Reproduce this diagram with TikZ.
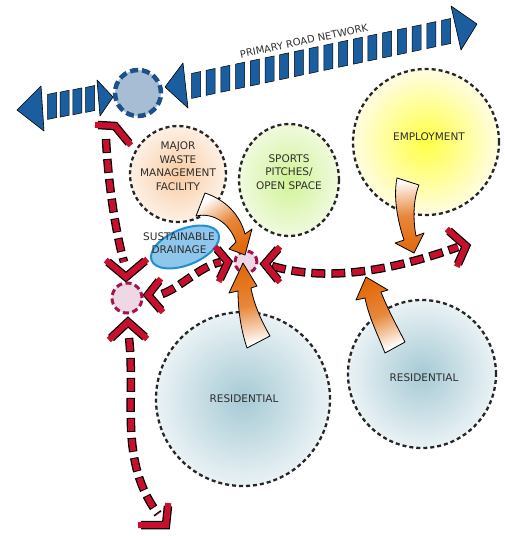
\documentclass[tikz,border=0pt]{standalone}
\usepackage{fontspec}
\setmainfont{DejaVu Sans}
\usetikzlibrary{calc,shapes.geometric}
\definecolor{roadblue}{HTML}{1B5E9F}
\definecolor{roadedge}{HTML}{1D4F8A}
\definecolor{roadfill}{HTML}{A7BDD3}
\definecolor{routered}{HTML}{C8102E}
\definecolor{juncedge}{HTML}{A3124F}
\definecolor{juncfill}{HTML}{EFD8E5}
\definecolor{arrowor}{HTML}{E2690A}
\definecolor{textgrey}{HTML}{2E2E2E}
\definecolor{drainfill}{HTML}{8FC6EC}
\definecolor{drainedge}{HTML}{1E8FD5}
\definecolor{empin}{HTML}{FFFF45}
\definecolor{empout}{HTML}{FFFDE2}
\definecolor{wastein}{HTML}{F9CBA2}
\definecolor{wasteout}{HTML}{FDF1E6}
\definecolor{sportin}{HTML}{D0F396}
\definecolor{sportout}{HTML}{F0FADF}
\definecolor{resin}{HTML}{A6CAD5}
\definecolor{resout}{HTML}{EAF2F5}
\tikzset{
  zone/.style={circle, draw=black!85, line width=2.3pt, dash pattern=on 4pt off 3pt},
  lbl/.style={text=textgrey, align=center, font=\fontsize{10.5}{13.6}\selectfont},
  stripe/.style={rectangle, fill=roadblue, draw=black, line width=0.5pt,
    minimum width=9pt, minimum height=25pt, inner sep=0pt, yslant=0.21},
  roadtip/.style={fill=roadblue, draw=black, line width=0.6pt, line join=round},
  route/.style={draw=routered, line width=6pt, dash pattern=on 12pt off 8pt, dash phase=19pt,
    preaction={draw=black, line width=8.5pt, dash pattern=on 14pt off 6pt, dash phase=0pt}},
  chev/.style={draw=routered, line width=6pt, line cap=rect, line join=miter,
    preaction={draw=black, line width=8.5pt}},
  junc/.style={circle, fill=juncfill, draw=juncedge, line width=3pt,
    dash pattern=on 6pt off 3.5pt, inner sep=0pt},
  fatdown/.style={draw=black, line width=0.8pt, line join=round,
    top color=white, bottom color=arrowor, middle color=arrowor!80!white},
  fatup/.style={draw=black, line width=0.8pt, line join=round,
    top color=arrowor, bottom color=white, middle color=arrowor!80!white}
}
\begin{document}
\begin{tikzpicture}[x=1pt,y=-1pt]
\useasboundingbox (0,0) rectangle (504,536);
% land uses
\node [zone, minimum size=146pt, inner color=empin, outer color=empout] (employ) at (426,142) {};
\node [zone, minimum size=96pt, inner color=wastein, outer color=wasteout] (waste) at (178,174) {};
\node [zone, ellipse, minimum width=100pt, minimum height=112pt,
  inner color=sportin, outer color=sportout] (sports) at (289,180) {};
\node [zone, minimum size=174pt, inner color=resin, outer color=resout] (resw) at (243,399) {};
\node [zone, minimum size=148pt, inner color=resin, outer color=resout] (rese) at (422,374) {};
\node [lbl] (employtxt) at (429,137) {EMPLOYMENT};
\node [lbl] (wastetxt) at (178,166) {MAJOR\\WASTE\\MANAGEMENT\\FACILITY};
\node [lbl] (sportstxt) at (289,172) {SPORTS\\PITCHES/\\OPEN SPACE};
\node [lbl] (reswtxt) at (244,399) {RESIDENTIAL};
\node [lbl] (resetxt) at (424,378) {RESIDENTIAL};
\node [ellipse, rotate=22, minimum width=72pt, minimum height=36pt,
  fill=drainfill, draw=drainedge, line width=2pt] (drain) at (185,247) {};
\node [lbl, font=\fontsize{10.5}{12.5}\selectfont] (draintxt) at (179,243) {SUSTAINABLE\\DRAINAGE};
% local routes
\coordinate (rnw) at (115,126);
\coordinate (rsw) at (126,277);
\coordinate (rwn) at (128,322);
\coordinate (rss) at (166,525);
\coordinate (rbw) at (148,295);
\coordinate (rbe) at (228,262);
\coordinate (rcw) at (265,264);
\coordinate (rce) at (466,246);
\draw [route] (106,139) .. controls (108,180) and (115,230) .. (124,262);
\draw [chev] (rnw) ++(-17,-1) -- (rnw) -- ++(14,17);
\draw [chev] (rsw) ++(-18,-15) -- (rsw) -- ++(19,-16);
\draw [route] (129,338) .. controls (136,400) and (118,460) .. (158,514);
\draw [chev] (rwn) ++(-17,16) -- (rwn) -- ++(17,15);
\draw [chev] (rss) ++(-25,0) -- (rss) -- ++(2,-19);
\draw [route] (162,294) .. controls (180,288) and (200,266) .. (221,262);
\draw [chev] (rbw) ++(11,-14) -- (rbw) -- ++(13,15);
\draw [chev] (rbe) ++(-11,-13) -- (rbe) -- ++(-8,17);
\draw [route] (272,266) .. controls (320,280) and (380,275) .. (458,247);
\draw [chev] (rcw) ++(13,-15) -- (rcw) -- ++(13,16);
\draw [chev] (rce) ++(-17,-15) -- (rce) -- ++(-8,18);
\node [junc, minimum size=22pt] (jn) at (246,262) {};
\node [junc, minimum size=30pt] (jw) at (127,298) {};
% flows
\draw [fatdown, shading angle=35] (205,193) .. controls (226,200) and (240,215) .. (245,234)
  -- (252,229) -- (245,255) -- (229,249) -- (236,242) .. controls (230,224) and (214,212) .. (196,216) -- cycle;
\draw [fatup, shading angle=11] (247,348) .. controls (241,330) and (238,310) .. (238,291)
  -- (229,293) -- (243,263) -- (257,286) -- (251,288) .. controls (254,305) and (262,322) .. (270,336) -- cycle;
\draw [fatdown, shading angle=5] (397,178) .. controls (393,198) and (398,222) .. (404,240)
  -- (395,243) -- (414,253) -- (424,233) -- (416,236) .. controls (413,220) and (413,200) .. (419,185) -- cycle;
\draw [fatup, shading angle=22] (385,353) .. controls (378,335) and (369,318) .. (365,298)
  -- (356,300) -- (366,277) -- (388,290) -- (381,292) .. controls (388,310) and (398,328) .. (405,342) -- cycle;
% primary road
\draw [roadtip] (17,110) -- (41,86) -- (44,131) -- cycle;
\foreach \i in {0,...,3}
  \node [stripe] (sw\i) at ($(52,106)!\i/3!(90,99)$) {};
\draw [roadtip] (97,80) -- (113,97) -- (100,116) -- cycle;
\node [circle, fill=roadfill, draw=roadedge, line width=4.5pt, dash pattern=on 8pt off 4pt,
  minimum size=46pt] (rj) at (138,93) {};
\draw [roadtip] (165,87) -- (183,63) -- (188,108) -- cycle;
\foreach \i in {0,...,17}
  \node [stripe] (se\i) at ($(196,85)!\i/17!(446,32)$) {};
\draw [roadtip] (451,6) -- (477,24) -- (461,50) -- cycle;
\node [text=textgrey, rotate=12, font=\fontsize{10}{12}\selectfont] (roadtxt) at (304,41) {PRIMARY ROAD NETWORK};
\end{tikzpicture}
\end{document}
